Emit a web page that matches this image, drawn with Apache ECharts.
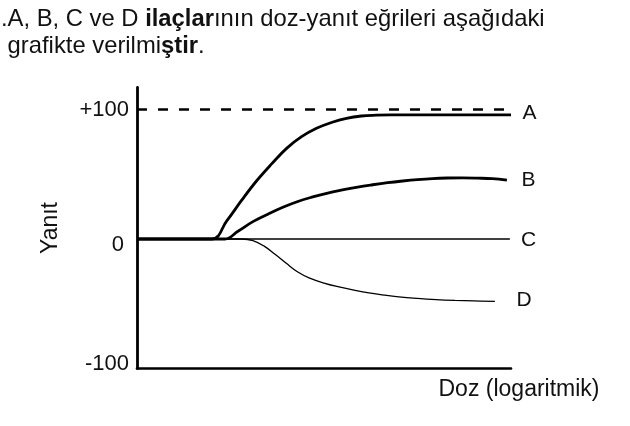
<!DOCTYPE html>
<html>
<head>
<meta charset="utf-8">
<script src="https://cdn.jsdelivr.net/npm/echarts@6/dist/echarts.min.js"></script>
<style>
  html, body { margin: 0; padding: 0; background: #fff; }
  #chart { width: 630px; height: 426px; }
</style>
</head>
<body>
<div id="chart"></div>
<script>
// ---- data ----
const titleLine1 = '.A, B, C ve D {b|ilaçlar}ının doz-yanıt eğrileri aşağıdaki';
const titleLine2 = ' grafikte verilmi{b|ştir}.';
const xAxisName = 'Doz (logaritmik)';
const yAxisName = 'Yanıt';

const yTickValues = [-100, 0, 100];
const yTickLabels = ['-100', '0', '+100'];

const seriesNames = ['A', 'B', 'C', 'D'];

// maximal response reference (dashed)
const doseMax = [0, 98.9];
const respMax = [100, 100];

const doseA = [0, 20, 24, 28, 32, 36, 40, 44, 48, 52, 56, 60, 64, 68, 80, 100];
const respA = [0, 0, 14, 30, 45, 58, 70, 79, 85.5, 90, 93.2, 95, 95.6, 95.8, 95.8, 95.8];

const doseB = [0, 23.5, 27, 31, 35, 39, 43, 47, 51, 55, 59, 63, 67, 71, 75, 79, 83, 87, 91, 95, 98.9];
const respB = [0, 0, 6, 13.4, 19.2, 24.5, 29, 32.5, 35.5, 37.9, 40.1, 41.9, 43.5, 44.8, 45.9, 46.7, 47.1, 47.2, 47, 46.6, 45.4];

const doseC = [0, 99.7];
const respC = [0, 0];

const doseD = [0, 28, 31, 34, 37, 40, 43, 46, 50, 54, 58, 62, 66, 70, 75, 80, 85, 90, 95.7];
const respD = [0, 0, -1.2, -5.5, -12, -19, -25.5, -30, -34, -37, -39.5, -41.6, -43.3, -44.7, -45.9, -46.8, -47.4, -47.8, -48.1];

// ---- chart ----
const FONT = "'Liberation Sans', Arial, sans-serif";
const INK = '#111';
const pairs = (xs, ys) => xs.map((x, i) => [x, ys[i]]);

function endLabel(distance, dy) {
  return {
    show: true,
    formatter: '{a}',
    distance: distance,
    offset: [0, dy],
    fontSize: 21,
    fontFamily: FONT,
    color: INK
  };
}

const chart = echarts.init(document.getElementById('chart'), null, { renderer: 'canvas' });

chart.setOption({
  animation: false,
  backgroundColor: '#fff',
  title: [{
    text: titleLine1 + '\n' + titleLine2,
    left: 1,
    top: 6,
    padding: 0,
    textStyle: {
      fontFamily: FONT,
      fontSize: 23.8,
      fontWeight: 'normal',
      color: INK,
      lineHeight: 27,
      rich: {
        b: { fontFamily: FONT, fontSize: 23.8, fontWeight: 'bold', color: INK, lineHeight: 27 }
      }
    }
  }],
  grid: { left: 137, right: 119, top: 87.5, bottom: 57.5, containLabel: false },
  xAxis: {
    type: 'value',
    min: 0,
    max: 100,
    name: xAxisName,
    nameLocation: 'end',
    nameGap: 8,
    nameTextStyle: {
      fontFamily: FONT, fontSize: 23, color: INK,
      align: 'center', verticalAlign: 'top', padding: [10, 0, 0, 0]
    },
    axisLine: { show: true, onZero: false, lineStyle: { color: '#000', width: 2.6 } },
    axisTick: { show: false },
    axisLabel: { show: false },
    splitLine: { show: false }
  },
  yAxis: {
    type: 'value',
    min: -100,
    max: 117,
    name: yAxisName,
    nameLocation: 'middle',
    nameRotate: 90,
    nameGap: 75,
    nameTextStyle: { fontFamily: FONT, fontSize: 23, color: INK },
    axisLine: { show: true, onZero: false, lineStyle: { color: '#000', width: 2.8 } },
    axisTick: { show: false },
    splitLine: { show: false },
    axisLabel: {
      customValues: yTickValues,
      margin: 8,
      fontFamily: FONT,
      fontSize: 22,
      color: INK,
      formatter: function (v) {
        const i = yTickValues.indexOf(v);
        const t = i >= 0 ? yTickLabels[i] : '';
        if (v === 0) return '{z|' + t + '}';
        if (v === -100) return '{m|' + t + '}';
        return t;
      },
      rich: {
        z: { fontFamily: FONT, fontSize: 22, color: INK, padding: [12, 5, 0, 0] },
        m: { fontFamily: FONT, fontSize: 22, color: INK, padding: [0, 0, 10, 0] }
      }
    }
  },
  series: [
    {
      name: seriesNames[2], type: 'line', data: pairs(doseC, respC),
      symbol: 'none', lineStyle: { color: '#000', width: 1.3 },
      endLabel: endLabel(11, 1), z: 2
    },
    {
      name: seriesNames[3], type: 'line', data: pairs(doseD, respD),
      symbol: 'none', smooth: 0.4, lineStyle: { color: '#000', width: 1.3 },
      endLabel: endLabel(21.5, -1), z: 2
    },
    {
      name: seriesNames[1], type: 'line', data: pairs(doseB, respB),
      symbol: 'none', smooth: 0.4, lineStyle: { color: '#000', width: 2.8 },
      endLabel: endLabel(14.5, 0), z: 3
    },
    {
      name: seriesNames[0], type: 'line', data: pairs(doseA, respA),
      symbol: 'none', smooth: 0.4, lineStyle: { color: '#000', width: 2.8 },
      endLabel: endLabel(11.5, -2), z: 3
    },
    {
      name: 'max', type: 'line', data: pairs(doseMax, respMax),
      symbol: 'none', lineStyle: { color: '#000', width: 2.6, type: [10, 11] }, z: 3
    }
  ]
});
</script>
</body>
</html>
